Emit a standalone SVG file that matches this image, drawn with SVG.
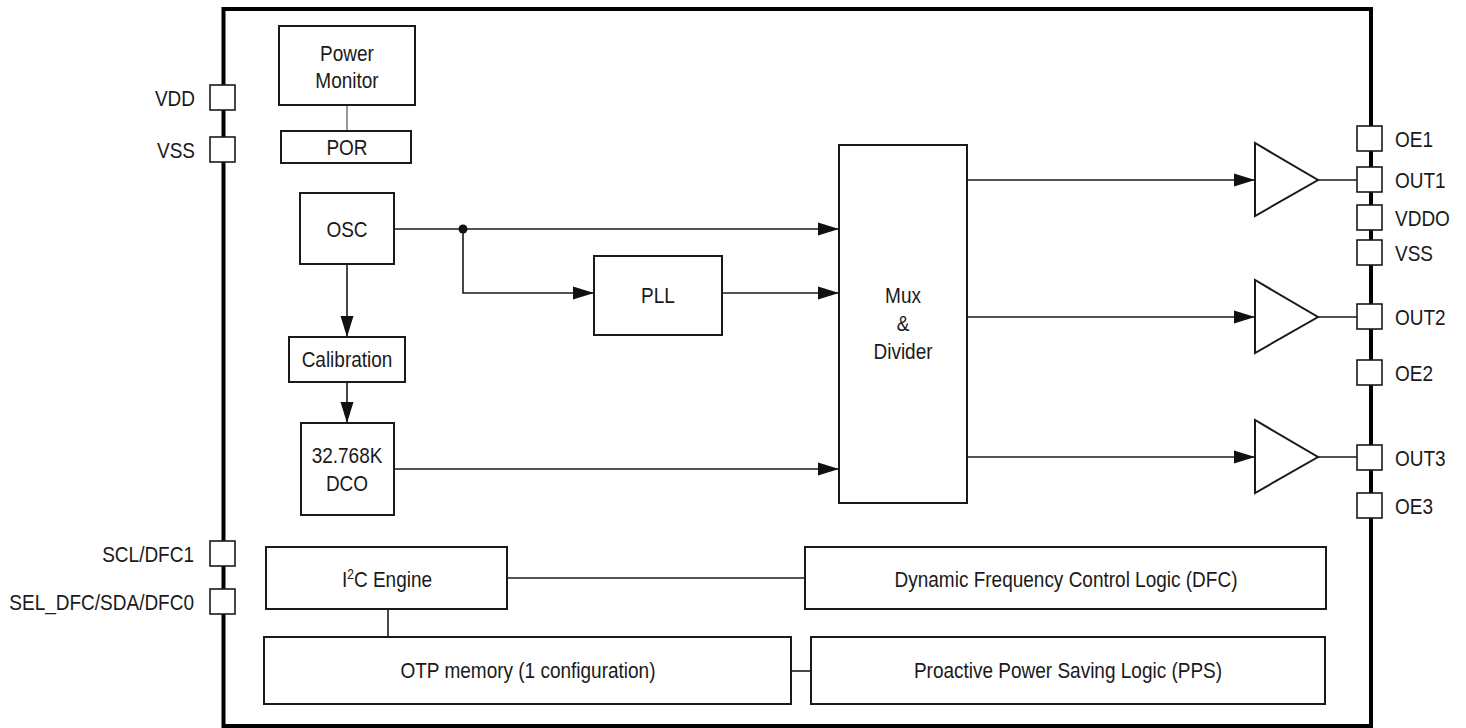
<svg xmlns="http://www.w3.org/2000/svg" width="1466" height="728" viewBox="0 0 1466 728">
<style>
.box{fill:#fff;stroke:#1a1a1a;stroke-width:2}
.pin{fill:#fff;stroke:#1a1a1a;stroke-width:1.6}
.t{font-family:"Liberation Sans",Arial,sans-serif;font-size:19px;fill:#1a1a1a}
.m{text-anchor:middle}
.e{text-anchor:end}
.w{fill:none;stroke:#1a1a1a;stroke-width:1.6}
.thin{fill:none;stroke:#555;stroke-width:1.2}
</style>
<defs>
<marker id="arr" markerUnits="userSpaceOnUse" markerWidth="22" markerHeight="14" refX="21" refY="7" orient="auto">
<path d="M0,0.5 L21,7 L0,13.5 z" fill="#111"/>
</marker>
</defs>
<rect id="chip" x="223.5" y="9" width="1147.5" height="717" fill="none" stroke="#000" stroke-width="4"/>
<g id="connectors">
<path class="thin" d="M347,105 V131"/>
<path class="w" d="M394,229 H839" marker-end="url(#arr)"/>
<circle cx="463" cy="229" r="4.5" fill="#111"/>
<path class="w" d="M463,229 V293 H594" marker-end="url(#arr)"/>
<path class="w" d="M722,293 H839" marker-end="url(#arr)"/>
<path class="w" d="M347,264 V337" marker-end="url(#arr)"/>
<path class="w" d="M347,382 V423" marker-end="url(#arr)"/>
<path class="w" d="M394,469 H839" marker-end="url(#arr)"/>
<path class="w" d="M967,180 H1255" marker-end="url(#arr)"/>
<path class="w" d="M967,317 H1255" marker-end="url(#arr)"/>
<path class="w" d="M967,457 H1255" marker-end="url(#arr)"/>
<path class="w" d="M1318,180 H1357 M1318,317 H1357 M1318,457 H1357"/>
<path class="w" d="M507,578 H805"/>
<path class="w" d="M388,609 V637"/>
<path class="w" d="M791,671 H811"/>
</g>
<g id="pins-left">
<rect class="pin" x="210" y="85" width="25" height="25"/>
<text class="t e" transform="translate(195,106) scale(1,1.18)">VDD</text>
<rect class="pin" x="210" y="137" width="25" height="25"/>
<text class="t e" transform="translate(195,158) scale(1,1.18)">VSS</text>
<rect class="pin" x="210" y="541" width="25" height="25"/>
<text class="t e" transform="translate(194,562) scale(1,1.18)">SCL/DFC1</text>
<rect class="pin" x="210" y="589" width="25" height="25"/>
<text class="t e" transform="translate(194,610) scale(1,1.18)">SEL_DFC/SDA/DFC0</text>
</g>
<g id="pins-right">
<rect class="pin" x="1357" y="126" width="25" height="25"/>
<text class="t" transform="translate(1395,147) scale(1,1.18)">OE1</text>
<rect class="pin" x="1357" y="167" width="25" height="25"/>
<text class="t" transform="translate(1395,188) scale(1,1.18)">OUT1</text>
<rect class="pin" x="1357" y="205" width="25" height="25"/>
<text class="t" transform="translate(1395,226) scale(1,1.18)">VDDO</text>
<rect class="pin" x="1357" y="240" width="25" height="25"/>
<text class="t" transform="translate(1395,261) scale(1,1.18)">VSS</text>
<rect class="pin" x="1357" y="304" width="25" height="25"/>
<text class="t" transform="translate(1395,325) scale(1,1.18)">OUT2</text>
<rect class="pin" x="1357" y="360" width="25" height="25"/>
<text class="t" transform="translate(1395,381) scale(1,1.18)">OE2</text>
<rect class="pin" x="1357" y="445" width="25" height="25"/>
<text class="t" transform="translate(1395,466) scale(1,1.18)">OUT3</text>
<rect class="pin" x="1357" y="493" width="25" height="25"/>
<text class="t" transform="translate(1395,514) scale(1,1.18)">OE3</text>
</g>
<g id="power-monitor">
<rect class="box" x="279" y="26" width="136" height="79"/>
<text class="t m" transform="translate(347,61) scale(1,1.18)">Power</text>
<text class="t m" transform="translate(347,88) scale(1,1.18)">Monitor</text>
</g>
<g id="por">
<rect class="box" x="281" y="131" width="130" height="32"/>
<text class="t m" transform="translate(347,155) scale(1,1.18)">POR</text>
</g>
<g id="osc">
<rect class="box" x="300" y="193" width="94" height="71"/>
<text class="t m" transform="translate(347,237) scale(1,1.18)">OSC</text>
</g>
<g id="pll">
<rect class="box" x="594" y="256" width="128" height="79"/>
<text class="t m" transform="translate(658,303) scale(1,1.18)">PLL</text>
</g>
<g id="calibration">
<rect class="box" x="289" y="337" width="116" height="45"/>
<text class="t m" transform="translate(347,367) scale(1,1.18)">Calibration</text>
</g>
<g id="dco">
<rect class="box" x="301" y="423" width="93" height="92"/>
<text class="t m" transform="translate(347,463) scale(1,1.18)">32.768K</text>
<text class="t m" transform="translate(347,491) scale(1,1.18)">DCO</text>
</g>
<g id="mux">
<rect class="box" x="839" y="145" width="128" height="358"/>
<text class="t m" transform="translate(903,303) scale(1,1.18)">Mux</text>
<text class="t m" transform="translate(903,331) scale(1,1.18)">&amp;</text>
<text class="t m" transform="translate(903,359) scale(1,1.18)">Divider</text>
</g>
<g id="buf1"><polygon class="box" points="1255,143 1255,216 1318,180"/></g>
<g id="buf2"><polygon class="box" points="1255,280 1255,353 1318,317"/></g>
<g id="buf3"><polygon class="box" points="1255,420 1255,493 1318,457"/></g>
<g id="i2c">
<rect class="box" x="266" y="547" width="241" height="62"/>
<text class="t m" transform="translate(387,587) scale(1,1.18)">I<tspan font-size="12" dy="-7">2</tspan><tspan dy="7">C Engine</tspan></text>
</g>
<g id="dfc">
<rect class="box" x="805" y="547" width="521" height="62"/>
<text class="t m" transform="translate(1066,587) scale(1,1.18)">Dynamic Frequency Control Logic (DFC)</text>
</g>
<g id="otp">
<rect class="box" x="264" y="637" width="527" height="67"/>
<text class="t m" transform="translate(528,678) scale(1,1.18)">OTP memory (1 configuration)</text>
</g>
<g id="pps">
<rect class="box" x="811" y="637" width="514" height="67"/>
<text class="t m" transform="translate(1068,678) scale(1,1.18)">Proactive Power Saving Logic (PPS)</text>
</g>
</svg>
